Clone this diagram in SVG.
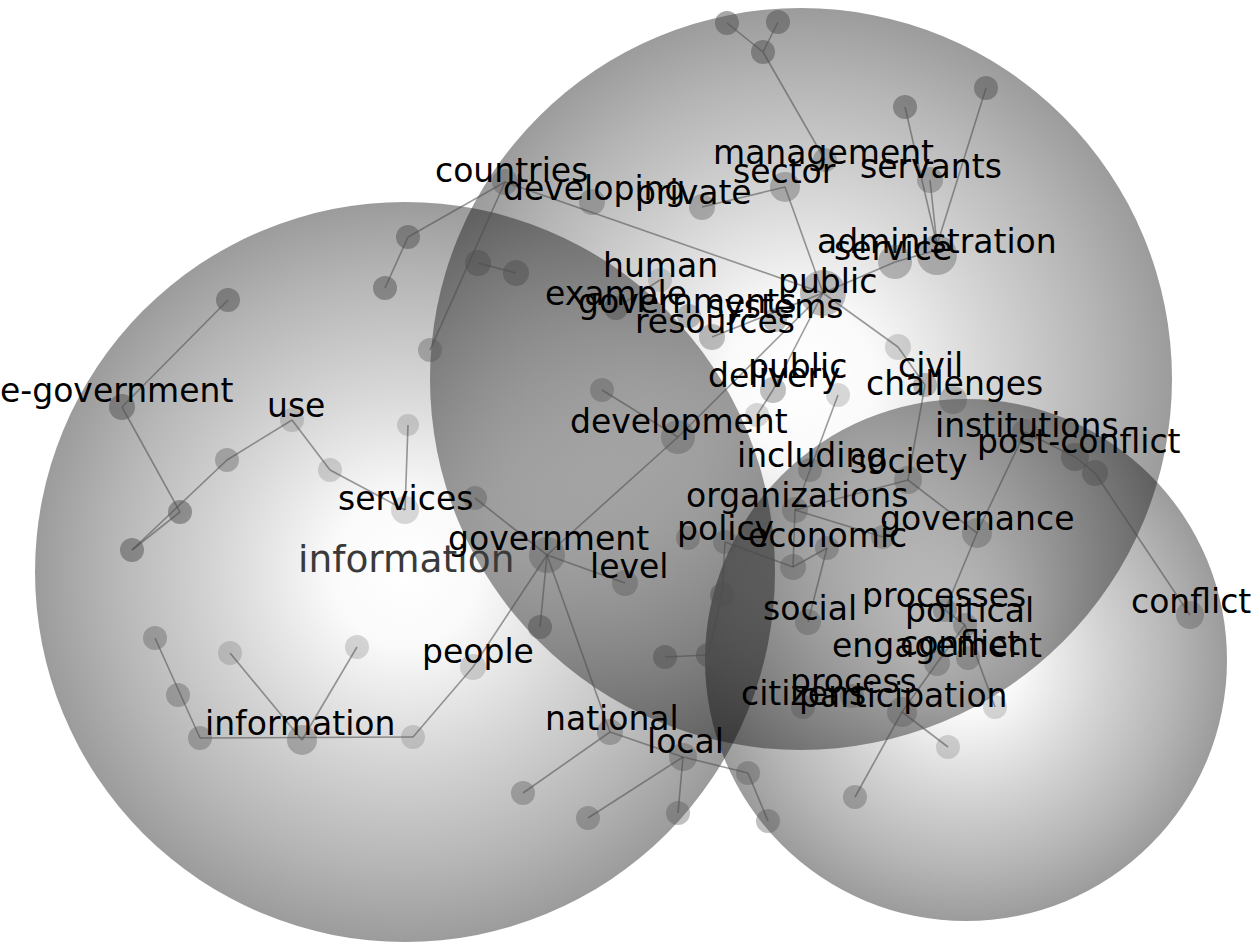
<svg xmlns="http://www.w3.org/2000/svg" width="1260" height="944" viewBox="0 0 1260 944">
<style>
.e{stroke:#4a4a4a;stroke-opacity:0.55;stroke-width:1.6;fill:none}
.n circle{fill:#505050}
.d circle{fill-opacity:0.5}
.m circle{fill-opacity:0.36}
.l circle{fill-opacity:0.22}
text{font-family:"DejaVu Sans","Liberation Sans",sans-serif;font-size:33px;fill:#000}
.big{font-size:37.5px;fill:#3a3a3a}
</style>
<defs>
<radialGradient id="sph" cx="0.5" cy="0.5" r="0.5">
<stop offset="0" stop-color="#000" stop-opacity="0"/>
<stop offset="0.2" stop-color="#000" stop-opacity="0.02"/>
<stop offset="0.5" stop-color="#000" stop-opacity="0.16"/>
<stop offset="0.8" stop-color="#000" stop-opacity="0.29"/>
<stop offset="1" stop-color="#000" stop-opacity="0.39"/>
</radialGradient>
</defs>
<rect width="1260" height="944" fill="#fff"/>
<g id="spheres">
<circle cx="405" cy="572" r="370" fill="url(#sph)"/>
<circle cx="801" cy="379" r="371" fill="url(#sph)"/>
<circle cx="966" cy="660" r="261" fill="url(#sph)"/>
</g>
<g id="connectors" class="e">
<line x1="727" y1="23" x2="763" y2="52"/>
<line x1="778" y1="22" x2="763" y2="52"/>
<line x1="763" y1="52" x2="825" y2="160"/>
<line x1="785" y1="187" x2="823" y2="293"/>
<line x1="702" y1="207" x2="785" y2="187"/>
<line x1="505" y1="182" x2="823" y2="293"/>
<line x1="505" y1="182" x2="408" y2="237"/>
<line x1="505" y1="182" x2="430" y2="350"/>
<line x1="478" y1="263" x2="516" y2="273"/>
<line x1="408" y1="237" x2="385" y2="288"/>
<line x1="905" y1="107" x2="937" y2="245"/>
<line x1="930" y1="180" x2="937" y2="245"/>
<line x1="986" y1="88" x2="937" y2="245"/>
<line x1="895" y1="262" x2="937" y2="250"/>
<line x1="823" y1="293" x2="895" y2="262"/>
<line x1="823" y1="293" x2="898" y2="347"/>
<line x1="898" y1="347" x2="925" y2="385"/>
<line x1="823" y1="293" x2="773" y2="390"/>
<line x1="823" y1="293" x2="678" y2="437"/>
<line x1="823" y1="293" x2="712" y2="337"/>
<line x1="660" y1="280" x2="616" y2="308"/>
<line x1="678" y1="437" x2="602" y2="390"/>
<line x1="678" y1="437" x2="547" y2="555"/>
<line x1="773" y1="390" x2="757" y2="415"/>
<line x1="925" y1="385" x2="908" y2="480"/>
<line x1="228" y1="300" x2="122" y2="407"/>
<line x1="122" y1="407" x2="180" y2="512"/>
<line x1="180" y1="512" x2="132" y2="550"/>
<line x1="132" y1="550" x2="227" y2="460"/>
<line x1="227" y1="460" x2="292" y2="420"/>
<line x1="292" y1="420" x2="330" y2="470"/>
<line x1="330" y1="470" x2="405" y2="510"/>
<line x1="408" y1="425" x2="405" y2="510"/>
<line x1="475" y1="498" x2="547" y2="555"/>
<line x1="547" y1="555" x2="625" y2="583"/>
<line x1="547" y1="555" x2="540" y2="627"/>
<line x1="547" y1="555" x2="473" y2="667"/>
<line x1="547" y1="555" x2="610" y2="732"/>
<line x1="473" y1="667" x2="413" y2="737"/>
<line x1="413" y1="737" x2="200" y2="738"/>
<line x1="200" y1="738" x2="155" y2="638"/>
<line x1="302" y1="740" x2="230" y2="653"/>
<line x1="302" y1="740" x2="357" y2="647"/>
<line x1="610" y1="732" x2="523" y2="793"/>
<line x1="610" y1="732" x2="683" y2="757"/>
<line x1="683" y1="757" x2="588" y2="818"/>
<line x1="683" y1="757" x2="678" y2="813"/>
<line x1="683" y1="757" x2="748" y2="773"/>
<line x1="748" y1="773" x2="768" y2="821"/>
<line x1="665" y1="657" x2="708" y2="655"/>
<line x1="708" y1="655" x2="722" y2="595"/>
<line x1="722" y1="595" x2="725" y2="542"/>
<line x1="725" y1="542" x2="793" y2="567"/>
<line x1="810" y1="470" x2="838" y2="395"/>
<line x1="810" y1="470" x2="795" y2="510"/>
<line x1="795" y1="510" x2="793" y2="567"/>
<line x1="793" y1="567" x2="827" y2="548"/>
<line x1="827" y1="548" x2="808" y2="622"/>
<line x1="795" y1="510" x2="908" y2="480"/>
<line x1="795" y1="510" x2="883" y2="537"/>
<line x1="908" y1="480" x2="977" y2="533"/>
<line x1="977" y1="533" x2="1025" y2="432"/>
<line x1="977" y1="533" x2="945" y2="610"/>
<line x1="945" y1="610" x2="965" y2="625"/>
<line x1="1025" y1="432" x2="1075" y2="457"/>
<line x1="1075" y1="457" x2="1095" y2="473"/>
<line x1="1095" y1="473" x2="1190" y2="615"/>
<line x1="965" y1="625" x2="937" y2="663"/>
<line x1="937" y1="663" x2="902" y2="712"/>
<line x1="902" y1="712" x2="855" y2="797"/>
<line x1="902" y1="712" x2="948" y2="747"/>
<line x1="965" y1="625" x2="995" y2="707"/>
</g>
<g id="n-top1" class="n d"><circle cx="727" cy="23" r="12"/></g>
<g id="n-top2" class="n d"><circle cx="778" cy="22" r="12"/></g>
<g id="n-top3" class="n d"><circle cx="763" cy="52" r="12"/></g>
<g id="n-sv1" class="n d"><circle cx="905" cy="107" r="12"/></g>
<g id="n-sv2" class="n d"><circle cx="986" cy="88" r="12"/></g>
<g id="n-478" class="n d"><circle cx="478" cy="263" r="13"/></g>
<g id="n-516" class="n d"><circle cx="516" cy="273" r="13"/></g>
<g id="n-408" class="n d"><circle cx="408" cy="237" r="12"/></g>
<g id="n-385" class="n d"><circle cx="385" cy="288" r="12"/></g>
<g id="n-430" class="n m"><circle cx="430" cy="350" r="12"/></g>
<g id="n-228" class="n d"><circle cx="228" cy="300" r="12"/></g>
<g id="n-227" class="n m"><circle cx="227" cy="460" r="12"/></g>
<g id="n-180" class="n d"><circle cx="180" cy="512" r="12"/></g>
<g id="n-132" class="n d"><circle cx="132" cy="550" r="12"/></g>
<g id="n-330" class="n l"><circle cx="330" cy="470" r="12"/></g>
<g id="n-408b" class="n l"><circle cx="408" cy="425" r="11"/></g>
<g id="n-475" class="n m"><circle cx="475" cy="498" r="12"/></g>
<g id="n-602" class="n m"><circle cx="602" cy="390" r="12"/></g>
<g id="n-898" class="n l"><circle cx="898" cy="347" r="13"/></g>
<g id="n-757" class="n l"><circle cx="757" cy="415" r="12"/></g>
<g id="n-540" class="n d"><circle cx="540" cy="627" r="12"/></g>
<g id="n-413" class="n l"><circle cx="413" cy="737" r="12"/></g>
<g id="n-200" class="n m"><circle cx="200" cy="738" r="12"/></g>
<g id="n-178" class="n m"><circle cx="178" cy="695" r="12"/></g>
<g id="n-155" class="n m"><circle cx="155" cy="638" r="12"/></g>
<g id="n-230" class="n l"><circle cx="230" cy="653" r="12"/></g>
<g id="n-357" class="n l"><circle cx="357" cy="647" r="12"/></g>
<g id="n-523" class="n m"><circle cx="523" cy="793" r="12"/></g>
<g id="n-588" class="n m"><circle cx="588" cy="818" r="12"/></g>
<g id="n-678" class="n m"><circle cx="678" cy="813" r="12"/></g>
<g id="n-748" class="n m"><circle cx="748" cy="773" r="12"/></g>
<g id="n-768" class="n m"><circle cx="768" cy="821" r="12"/></g>
<g id="n-665" class="n d"><circle cx="665" cy="657" r="12"/></g>
<g id="n-708" class="n d"><circle cx="708" cy="655" r="12"/></g>
<g id="n-722" class="n d"><circle cx="722" cy="595" r="12"/></g>
<g id="n-688" class="n m"><circle cx="688" cy="538" r="12"/></g>
<g id="n-793" class="n m"><circle cx="793" cy="567" r="13"/></g>
<g id="n-883" class="n m"><circle cx="883" cy="537" r="12"/></g>
<g id="n-1095" class="n d"><circle cx="1095" cy="473" r="13"/></g>
<g id="n-995" class="n l"><circle cx="995" cy="707" r="12"/></g>
<g id="n-948" class="n l"><circle cx="948" cy="747" r="12"/></g>
<g id="n-855" class="n m"><circle cx="855" cy="797" r="12"/></g>

<g id="information-big" class="n"><text class="big" x="298" y="572">information</text></g>
<g id="e-government" class="n d"><circle cx="122" cy="407" r="13"/><text x="0" y="402">e-government</text></g>
<g id="use" class="n l"><circle cx="292" cy="420" r="12"/><text x="267" y="417">use</text></g>
<g id="services" class="n l"><circle cx="405" cy="510" r="14"/><text x="338" y="510">services</text></g>
<g id="information" class="n m"><circle cx="302" cy="740" r="15"/><text x="205" y="735">information</text></g>
<g id="people" class="n l"><circle cx="473" cy="667" r="13"/><text x="422" y="663">people</text></g>
<g id="government" class="n m"><circle cx="547" cy="555" r="18"/><text x="448" y="550">government</text></g>
<g id="level" class="n m"><circle cx="625" cy="583" r="13"/><text x="590" y="578">level</text></g>
<g id="national" class="n m"><circle cx="610" cy="732" r="13"/><text x="545" y="730">national</text></g>
<g id="local" class="n m"><circle cx="683" cy="757" r="14"/><text x="647" y="753">local</text></g>
<g id="countries" class="n m"><circle cx="505" cy="182" r="13"/><text x="435" y="182">countries</text></g>
<g id="developing" class="n m"><circle cx="592" cy="202" r="13"/><text x="503" y="200">developing</text></g>
<g id="private" class="n m"><circle cx="702" cy="207" r="13"/><text x="635" y="204">private</text></g>
<g id="management" class="n m"><circle cx="825" cy="160" r="12"/><text x="713" y="164">management</text></g>
<g id="sector" class="n m"><circle cx="785" cy="187" r="15"/><text x="733" y="183">sector</text></g>
<g id="servants" class="n m"><circle cx="930" cy="180" r="13"/><text x="860" y="178">servants</text></g>
<g id="administration" class="n m"><circle cx="937" cy="255" r="20"/><text x="817" y="253">administration</text></g>
<g id="service" class="n m"><circle cx="895" cy="262" r="17"/><text x="834" y="260">service</text></g>
<g id="human" class="n l"><circle cx="660" cy="280" r="12"/><text x="603" y="277">human</text></g>
<g id="public" class="n m"><circle cx="823" cy="293" r="23"/><text x="778" y="293">public</text></g>
<g id="example" class="n d"><circle cx="616" cy="308" r="12"/><text x="545" y="305">example</text></g>
<g id="governments" class="n m"><circle cx="689" cy="316" r="12"/><text x="578" y="313">governments</text></g>
<g id="systems" class="n m"><circle cx="775" cy="320" r="12"/><text x="707" y="318">systems</text></g>
<g id="resources" class="n m"><circle cx="712" cy="337" r="13"/><text x="635" y="333">resources</text></g>
<g id="public-2" class="n l"><circle cx="838" cy="395" r="12"/><text x="748" y="378">public</text></g>
<g id="delivery" class="n m"><circle cx="773" cy="390" r="13"/><text x="708" y="387">delivery</text></g>
<g id="civil" class="n m"><circle cx="925" cy="385" r="12"/><text x="898" y="377">civil</text></g>
<g id="challenges" class="n m"><circle cx="953" cy="400" r="14"/><text x="866" y="395">challenges</text></g>
<g id="development" class="n m"><circle cx="678" cy="437" r="17"/><text x="570" y="433">development</text></g>
<g id="institutions" class="n m"><circle cx="1025" cy="432" r="13"/><text x="935" y="437">institutions</text></g>
<g id="post-conflict" class="n d"><circle cx="1075" cy="457" r="14"/><text x="977" y="453">post-conflict</text></g>
<g id="including" class="n m"><circle cx="810" cy="470" r="12"/><text x="737" y="467">including</text></g>
<g id="society" class="n m"><circle cx="908" cy="480" r="14"/><text x="850" y="473">society</text></g>
<g id="organizations" class="n m"><circle cx="795" cy="510" r="13"/><text x="686" y="507">organizations</text></g>
<g id="governance" class="n m"><circle cx="977" cy="533" r="15"/><text x="880" y="530">governance</text></g>
<g id="policy" class="n m"><circle cx="725" cy="542" r="12"/><text x="677" y="540">policy</text></g>
<g id="economic" class="n m"><circle cx="827" cy="548" r="12"/><text x="748" y="547">economic</text></g>
<g id="conflict" class="n m"><circle cx="1190" cy="615" r="14"/><text x="1131" y="613">conflict</text></g>
<g id="social" class="n m"><circle cx="808" cy="622" r="13"/><text x="763" y="620">social</text></g>
<g id="processes" class="n m"><circle cx="945" cy="610" r="12"/><text x="862" y="607">processes</text></g>
<g id="political" class="n m"><circle cx="965" cy="625" r="12"/><text x="905" y="622">political</text></g>
<g id="conflict-2" class="n m"><circle cx="968" cy="658" r="12"/><text x="900" y="655">conflict</text></g>
<g id="engagement" class="n m"><circle cx="937" cy="663" r="13"/><text x="832" y="657">engagement</text></g>
<g id="process" class="n m"><circle cx="852" cy="696" r="12"/><text x="790" y="693">process</text></g>
<g id="citizens" class="n m"><circle cx="803" cy="707" r="12"/><text x="741" y="705">citizens</text></g>
<g id="participation" class="n m"><circle cx="902" cy="712" r="15"/><text x="799" y="707">participation</text></g>
</svg>
